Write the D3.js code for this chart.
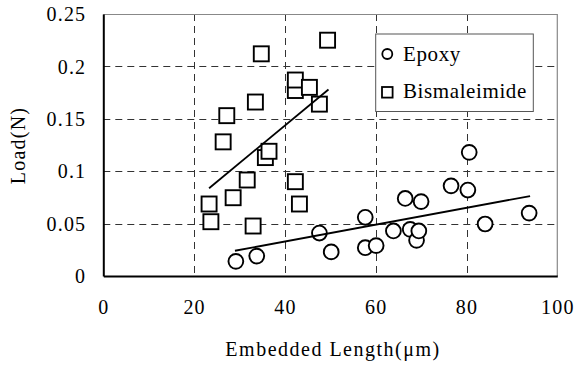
<!DOCTYPE html>
<html><head><meta charset="utf-8">
<script src="https://cdn.jsdelivr.net/npm/d3@7/dist/d3.min.js"></script>
<style>
html,body{margin:0;padding:0;background:#fff;}
svg{display:block;}
</style></head>
<body>
<script>
// ---- data ----
const epoxyX = [29.2, 33.8, 47.6, 50.2, 57.7, 57.7, 60.1, 63.9, 66.5, 67.6, 69.0, 69.5, 70.0, 76.6, 80.3, 80.6, 84.1, 93.8];
const epoxyY = [0.014, 0.019, 0.041, 0.023, 0.056, 0.027, 0.029, 0.043, 0.074, 0.0445, 0.034, 0.043, 0.071, 0.086, 0.082, 0.118, 0.0496, 0.060];
const bisX = [49.4, 34.8, 42.3, 42.3, 45.4, 47.6, 33.5, 27.2, 26.4, 35.7, 36.5, 31.7, 42.3, 28.6, 23.3, 43.2, 23.7, 33.0];
const bisY = [0.225, 0.212, 0.177, 0.187, 0.180, 0.164, 0.166, 0.153, 0.128, 0.113, 0.119, 0.0916, 0.090, 0.0747, 0.0687, 0.0687, 0.0518, 0.0477];
const epoxyTrendX = [29.0, 94.0];
const epoxyTrendY = [0.0241, 0.0763];
const bisTrendX = [23.3, 49.6];
const bisTrendY = [0.0837, 0.178];
const xTicks = [0, 20, 40, 60, 80, 100];
const yTicks = [0, 0.05, 0.1, 0.15, 0.2, 0.25];
const xTickLabels = ["0", "20", "40", "60", "80", "100"];
const yTickLabels = ["0", "0.05", "0.1", "0.15", "0.2", "0.25"];
const seriesNames = ["Epoxy", "Bismaleimide"];
const xTitle = "Embedded Length(\u03bcm)";
const yTitle = "Load(N)";

// ---- chart ----
const W = 576, H = 365;
const L = 103.3, R = 557.3, T = 14, B = 276;
const FONT = '"Liberation Serif"';
const x = d3.scaleLinear().domain([0, 100]).range([L, R]);
const y = d3.scaleLinear().domain([0, 0.25]).range([B, T]);

const svg = d3.select("body").append("svg").attr("width", W).attr("height", H);

// grid
const grid = svg.append("g").attr("stroke", "#333").attr("stroke-width", 1).attr("stroke-dasharray", "7,5");
grid.selectAll("line.v").data(xTicks.slice(1, -1)).join("line")
  .attr("x1", d => Math.round(x(d)) + 0.5).attr("x2", d => Math.round(x(d)) + 0.5)
  .attr("y1", T).attr("y2", B);
grid.selectAll("line.h").data(yTicks.slice(1, -1)).join("line")
  .attr("x1", L).attr("x2", R)
  .attr("y1", d => Math.round(y(d)) + 0.5).attr("y2", d => Math.round(y(d)) + 0.5);

// frame: top/right gray, left/bottom black
svg.append("line").attr("x1", L).attr("x2", R).attr("y1", T + 0.5).attr("y2", T + 0.5).attr("stroke", "#888").attr("stroke-width", 1.2);
svg.append("line").attr("x1", R).attr("x2", R).attr("y1", T).attr("y2", B).attr("stroke", "#888").attr("stroke-width", 1.2);

// axes
const fmtY = d => yTickLabels[yTicks.indexOf(d)];
const fmtX = d => xTickLabels[xTicks.indexOf(d)];
const yAxis = svg.append("g").attr("transform", `translate(${L},0)`)
  .call(d3.axisLeft(y).tickValues(yTicks).tickSize(0).tickPadding(17).tickFormat(fmtY));
const xAxis = svg.append("g").attr("transform", `translate(0,${B})`)
  .call(d3.axisBottom(x).tickValues(xTicks).tickSize(0).tickPadding(24).tickFormat(fmtX));
[yAxis, xAxis].forEach(a => {
  a.attr("font-family", null).attr("font-size", null);
  a.select(".domain").attr("stroke", "#000").attr("stroke-width", 2);
  a.selectAll("text").style("font-family", FONT).style("font-size", "20px")
    .attr("letter-spacing", "1.2px").attr("fill", "#000");
});
yAxis.selectAll("text").attr("dy", "0.33em");

// titles
svg.append("text").attr("x", 333).attr("y", 355.5).attr("text-anchor", "middle")
  .style("font-family", FONT).style("font-size", "20px").attr("letter-spacing", "1.5px").text(xTitle);
svg.append("text").attr("transform", "translate(25,145.5) rotate(-90)").attr("text-anchor", "middle")
  .style("font-family", FONT).style("font-size", "20px").attr("letter-spacing", "1.2px").text(yTitle);

// markers
const MS = 15, MR = 7.4;
const bisData = bisX.map((v, i) => [v, bisY[i]]);
const epData = epoxyX.map((v, i) => [v, epoxyY[i]]);
svg.append("g").selectAll("rect").data(bisData).join("rect")
  .attr("x", d => x(d[0]) - MS / 2).attr("y", d => y(d[1]) - MS / 2)
  .attr("width", MS).attr("height", MS)
  .attr("fill", "#fff").attr("stroke", "#000").attr("stroke-width", 1.9);
svg.append("g").selectAll("circle").data(epData).join("circle")
  .attr("cx", d => x(d[0])).attr("cy", d => y(d[1])).attr("r", MR)
  .attr("fill", "#fff").attr("stroke", "#000").attr("stroke-width", 1.9);

// trend lines
const line = d3.line().x(d => x(d[0])).y(d => y(d[1]));
svg.append("path").datum(bisTrendX.map((v, i) => [v, bisTrendY[i]]))
  .attr("d", line).attr("stroke", "#000").attr("stroke-width", 1.8).attr("fill", "none");
svg.append("path").datum(epoxyTrendX.map((v, i) => [v, epoxyTrendY[i]]))
  .attr("d", line).attr("stroke", "#000").attr("stroke-width", 1.8).attr("fill", "none");

// legend
const lg = svg.append("g");
lg.append("rect").attr("x", 375.7).attr("y", 34).attr("width", 157.6).attr("height", 77.5)
  .attr("fill", "#fff").attr("stroke", "#555").attr("stroke-width", 1);
lg.append("circle").attr("cx", 387.3).attr("cy", 54).attr("r", 5)
  .attr("fill", "#fff").attr("stroke", "#000").attr("stroke-width", 1.8);
lg.append("rect").attr("x", 387.3 - 5.3).attr("y", 92.3 - 5.3).attr("width", 10.6).attr("height", 10.6)
  .attr("fill", "#fff").attr("stroke", "#000").attr("stroke-width", 1.8);
lg.append("text").attr("x", 403).attr("y", 60.7).style("font-family", FONT).style("font-size", "21px").attr("letter-spacing", "0.6px").text(seriesNames[0]);
lg.append("text").attr("x", 403).attr("y", 98.3).style("font-family", FONT).style("font-size", "21px").attr("letter-spacing", "0.6px").text(seriesNames[1]);
</script>
</body></html>
